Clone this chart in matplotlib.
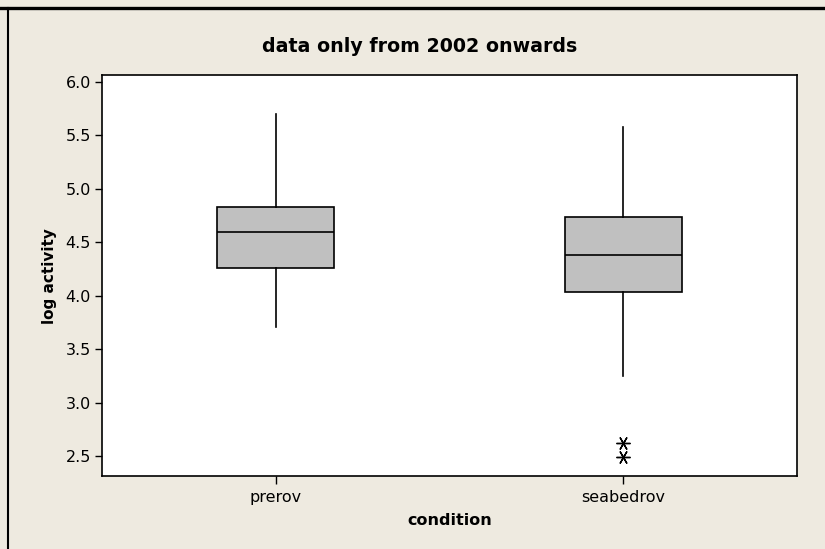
import matplotlib.pyplot as plt
from matplotlib.lines import Line2D

# values (log activity)
conditions = ["prerov", "seabedrov"]
whisker_low = [3.71, 3.25]
q1 = [4.26, 4.035]
medians = [4.60, 4.38]
q3 = [4.83, 4.735]
whisker_high = [5.695, 5.575]
outliers = [[], [2.62, 2.49]]

bg = "#eeeae0"

fig = plt.figure(figsize=(8.25, 5.49), dpi=100, facecolor=bg)
ax = fig.add_axes([0.1236, 0.133, 0.8424, 0.7295])
ax.set_facecolor("white")

stats = []
for i, name in enumerate(conditions):
    stats.append(dict(label=name, med=medians[i], q1=q1[i], q3=q3[i],
                      whislo=whisker_low[i], whishi=whisker_high[i],
                      fliers=outliers[i]))

ax.bxp(stats, positions=[1, 2], widths=0.337, patch_artist=True,
       showcaps=False,
       boxprops=dict(facecolor="#c0c0c0", edgecolor="black", linewidth=1.2),
       medianprops=dict(color="black", linewidth=1.2),
       whiskerprops=dict(color="black", linewidth=1.2),
       flierprops=dict(marker=(6, 2, 90), markersize=10, markeredgecolor="black",
                       markeredgewidth=1.0, linestyle="none"))

ax.set_xlim(0.5, 2.5)
ax.set_ylim(2.316, 6.058)
ax.set_yticks([2.5, 3.0, 3.5, 4.0, 4.5, 5.0, 5.5, 6.0])
ax.set_yticklabels(["2.5", "3.0", "3.5", "4.0", "4.5", "5.0", "5.5", "6.0"])

for s in ax.spines.values():
    s.set_linewidth(1.2)
ax.tick_params(axis="y", length=5, width=1.0, labelsize=11.5, pad=3)
ax.tick_params(axis="x", length=6, width=1.0, labelsize=11.5, pad=4)

fig.text(419.5 / 825, 1 - 47 / 549, "data only from 2002 onwards", fontsize=13.7,
         fontweight="bold", ha="center", va="center")
ax.set_ylabel("log activity", fontsize=11, fontweight="bold", labelpad=6)
ax.set_xlabel("condition", fontsize=11.5, fontweight="bold", labelpad=6)

# window frame lines (top and left edges)
fig.add_artist(Line2D([0, 1], [1 - 7.5 / 549, 1 - 7.5 / 549], color="black",
                      linewidth=2.4, transform=fig.transFigure))
fig.add_artist(Line2D([7.5 / 825, 7.5 / 825], [0, 1 - 7.5 / 549], color="black",
                      linewidth=1.5, transform=fig.transFigure))

fig.savefig("out.png", dpi=100, facecolor=bg)
